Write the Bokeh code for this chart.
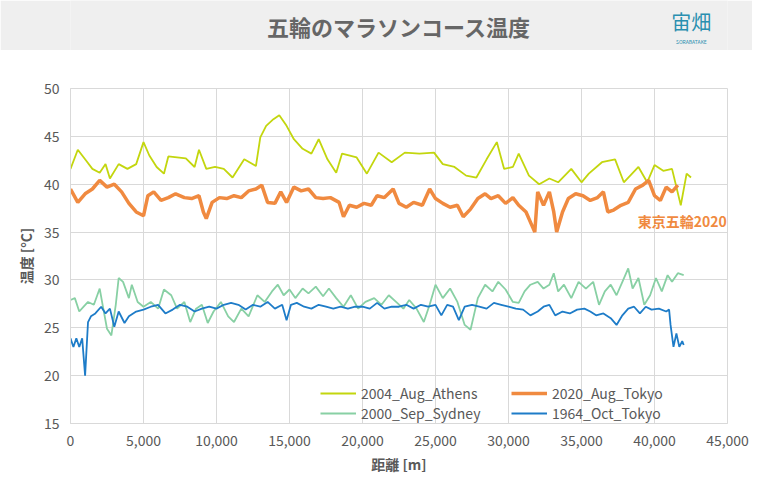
from bokeh.plotting import figure
from bokeh.models import NumeralTickFormatter, Legend, LegendItem, Range1d, Label
from bokeh.layouts import column
from bokeh.embed import file_html
from bokeh.resources import INLINE
from bokeh.core.properties import value

athens_x = [0,500,1000,1500,2000,2400,2700,3300,3900,4500,5000,5400,5900,6400,6700,7300,7900,8500,8800,9300,9900,10500,11100,11900,12700,13000,13400,13900,14300,14800,15300,15900,16500,17000,17600,18200,18600,19600,20300,21100,22000,22900,23900,24900,25500,26300,27100,27800,28500,29200,29700,30300,30700,31400,32100,32800,33400,34300,35000,35500,36400,37300,37900,38900,39500,40000,40600,41200,41800,42200,42500]
athens_y = [41.6,43.6,42.6,41.6,41.2,42.1,40.6,42.1,41.6,42.1,44.4,43.0,41.8,41.1,42.9,42.8,42.7,41.8,43.6,41.6,41.8,41.6,40.7,42.6,41.9,44.9,46.1,46.8,47.2,46.1,44.7,43.7,43.2,44.7,42.6,41.2,43.2,42.8,41.1,43.3,42.3,43.3,43.2,43.3,42.1,41.8,40.9,40.7,42.6,44.4,41.6,41.8,43.2,40.9,40.0,40.6,40.2,41.6,40.2,41.1,42.3,42.6,40.2,41.8,40.2,42.0,41.4,41.6,37.8,41.1,40.7]

tokyo20_x = [0,500,1000,1500,2000,2500,3000,3500,4000,4500,5000,5300,5700,6200,6700,7200,7800,8300,8800,9100,9300,9700,10200,10700,11200,11700,12200,12700,13100,13500,14000,14400,14800,15300,15800,16300,16800,17300,17800,18400,18700,19100,19600,20100,20600,21000,21500,22100,22500,23000,23500,24100,24600,25000,25500,26000,26500,26900,27400,27900,28400,28800,29300,29800,30300,30700,31200,31600,31800,32000,32400,32800,33100,33300,33700,34100,34600,35100,35600,36100,36500,36800,37200,37700,38200,38700,39200,39600,40000,40400,40800,41200,41600]
tokyo20_y = [39.5,38.1,39.0,39.5,40.4,39.7,40.0,39.2,38.0,37.1,36.7,38.8,39.2,38.3,38.6,39.0,38.6,38.5,38.8,37.1,36.4,38.1,38.6,38.5,38.8,38.6,39.3,39.5,39.9,38.1,38.0,39.2,38.1,39.7,39.3,39.5,38.6,38.5,38.6,38.1,36.6,37.8,37.6,38.0,37.8,38.8,38.6,39.5,38.0,37.6,38.1,37.8,39.5,38.5,38.0,37.6,37.8,36.6,37.4,38.5,39.0,38.5,38.8,38.0,38.6,37.8,37.1,35.7,35.0,39.2,37.8,39.2,37.1,35.0,37.1,38.5,39.0,38.8,38.3,38.6,39.2,37.1,37.3,37.8,38.1,39.5,39.9,40.4,38.8,38.3,39.7,39.2,39.9]

sydney_x = [0,300,600,900,1200,1600,2000,2200,2500,2800,3100,3300,3600,4000,4200,4600,5000,5500,6000,6400,6900,7300,7800,8200,8600,9000,9400,9800,10300,10800,11200,11700,12200,12800,13300,13800,14200,14600,15000,15400,15900,16300,16800,17300,17700,18200,18700,19200,19700,20200,20800,21300,21800,22300,22800,23200,23700,24200,24600,25000,25500,26000,26500,27000,27400,27900,28400,28900,29300,29800,30300,30700,31100,31500,32000,32400,32800,33100,33400,33800,34300,34800,35300,35800,36200,36600,37000,37400,37800,38200,38500,38900,39300,39700,40100,40500,40900,41200,41600,42000]
sydney_y = [27.9,28.1,26.7,27.2,27.7,27.4,29.1,27.4,24.9,24.2,27.4,30.2,29.8,28.1,29.5,27.7,27.2,27.7,27.0,29.0,28.4,27.0,27.7,25.6,27.0,27.4,25.5,26.7,27.7,26.2,25.6,27.0,26.2,28.4,27.7,28.8,29.5,28.4,29.0,28.1,29.1,28.6,29.3,28.3,29.1,28.1,27.2,28.4,27.0,27.7,28.1,27.4,28.4,27.7,27.0,27.9,27.0,25.6,27.4,29.5,28.1,29.1,27.7,25.3,24.8,28.1,29.5,28.8,29.8,29.0,27.7,27.6,28.8,29.5,29.8,29.1,29.5,30.7,28.8,29.5,28.1,29.8,29.1,29.8,27.4,28.8,29.5,28.4,29.8,31.2,29.1,30.2,27.4,28.4,30.2,28.8,30.5,29.8,30.7,30.5]

tokyo64_x = [0,200,400,600,800,1000,1200,1400,1700,2100,2400,2700,3000,3300,3700,4000,4500,5000,5500,6000,6500,7000,7500,8000,8500,9000,9500,10000,10500,11000,11500,12000,12500,13000,13500,14000,14500,14800,15100,15500,16000,16500,17000,17500,18000,18500,19000,19500,20000,20500,21000,21500,22000,22500,23000,23500,24000,24500,25000,25400,25800,26200,26600,27000,27500,28000,28500,29000,29500,30000,30500,31000,31500,32000,32400,32800,33200,33700,34200,34700,35200,35600,36000,36500,37000,37400,37800,38200,38600,39000,39400,39800,40300,40800,41000,41100,41300,41500,41700,41900,42000]
tokyo64_y = [23.9,23.0,23.9,23.0,23.9,20.0,25.6,26.2,26.5,27.2,26.5,27.0,25.1,26.7,25.5,26.2,26.7,26.9,27.2,27.4,26.5,26.9,27.4,27.2,26.7,27.0,27.2,27.0,27.4,27.6,27.4,26.9,27.4,27.2,27.7,27.0,27.4,25.8,27.4,27.6,27.2,27.0,27.4,27.2,27.0,27.2,27.0,27.2,27.2,27.0,27.6,27.0,27.2,27.2,27.4,27.0,27.4,27.2,27.4,26.3,27.4,27.2,25.8,27.2,27.4,27.2,27.0,27.6,27.4,27.2,27.0,26.9,26.3,26.7,27.2,27.4,26.3,26.7,26.5,26.9,27.0,26.7,26.3,26.5,26.0,25.3,26.3,27.0,27.2,26.5,27.2,26.9,27.0,26.7,26.9,25.3,23.0,24.4,23.0,23.6,23.2]

FONT = "Noto Sans CJK JP"

head = figure(width=752, height=50, x_range=Range1d(0, 1), y_range=Range1d(0, 1),
              output_backend="svg", toolbar_location=None, min_border=0)
head.axis.visible = False
head.grid.visible = False
head.outline_line_color = None
head.background_fill_color = "#efefef"
head.border_fill_color = "#efefef"
head.text(x=[0.5], y=[0.5], text=["五輪のマラソンコース温度"], text_align="center", text_baseline="middle",
          text_font=value(FONT), text_font_size="22px", text_font_style="bold", text_color="#666666")
head.text(x=[0.945], y=[0.58], text=["宙畑"], text_align="center", text_baseline="middle",
          text_font=value(FONT), text_font_size="20px", text_color="#2a8fb0")
head.text(x=[0.945], y=[0.18], text=["SORABATAKE"], text_align="center", text_baseline="middle",
          text_font=value(FONT), text_font_size="5px", text_color="#2a8fb0")

p = figure(width=752, height=443, x_range=Range1d(0, 45000), y_range=Range1d(15, 50),
           output_backend="svg", toolbar_location=None,
           min_border_left=70, min_border_right=25, min_border_top=38, min_border_bottom=70)
p.outline_line_color = "#d9d9d9"
p.xaxis.ticker = list(range(0, 45001, 5000))
p.yaxis.ticker = list(range(15, 51, 5))
p.xaxis.formatter = NumeralTickFormatter(format="0,0")
for ax in (p.xaxis, p.yaxis):
    ax.axis_line_color = "#d9d9d9"
    ax.major_tick_line_color = None
    ax.minor_tick_line_color = None
    ax.major_label_text_font = FONT
    ax.major_label_text_font_size = "14px"
    ax.major_label_text_color = "#595959"
    ax.axis_label_text_font = FONT
    ax.axis_label_text_font_size = "14px"
    ax.axis_label_text_font_style = "bold"
    ax.axis_label_text_color = "#595959"
p.xaxis.axis_label = "距離 [m]"
p.yaxis.axis_label = "温度 [°C]"
p.xgrid.grid_line_color = "#d9d9d9"
p.ygrid.grid_line_color = "#d9d9d9"

r1 = p.line(athens_x, athens_y, line_color="#c3d60e", line_width=1.8)
r3 = p.line(sydney_x, sydney_y, line_color="#88d0a4", line_width=1.8)
r4 = p.line(tokyo64_x, tokyo64_y, line_color="#1e7cc8", line_width=1.8)
r2 = p.line(tokyo20_x, tokyo20_y, line_color="#f08a40", line_width=3.5)

p.add_layout(Label(x=44950, y=36.2, text="東京五輪2020", text_font=FONT, text_font_size="14px",
                   text_color="#f08a40", text_font_style="bold", text_align="right", text_baseline="middle"))

legend = Legend(items=[LegendItem(label="2004_Aug_Athens", renderers=[r1]),
                       LegendItem(label="2000_Sep_Sydney", renderers=[r3]),
                       LegendItem(label="2020_Aug_Tokyo", renderers=[r2]),
                       LegendItem(label="1964_Oct_Tokyo", renderers=[r4])],
                location=(250, 0), ncols=2, border_line_color=None, background_fill_alpha=0,
                label_text_font=FONT, label_text_font_size="14px", label_text_color="#595959",
                glyph_width=36, spacing=0, label_width=150)
p.add_layout(legend, "center")

open("out.html", "w").write(file_html(column(head, p, spacing=0), INLINE))
